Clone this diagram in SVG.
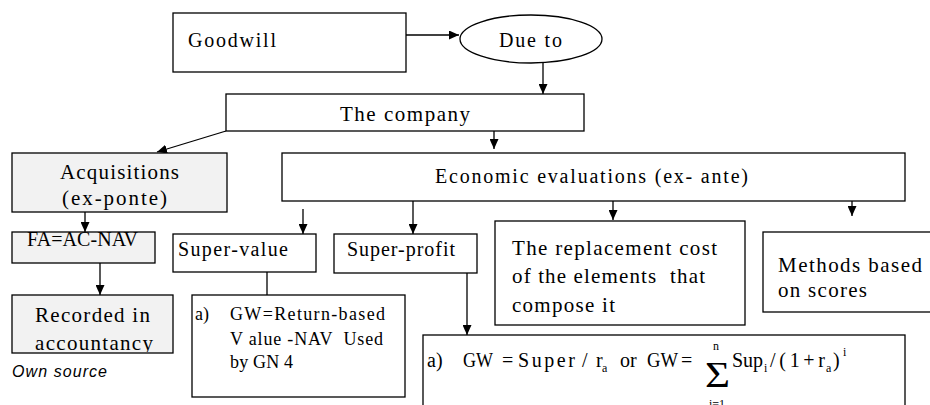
<svg xmlns="http://www.w3.org/2000/svg" width="930" height="405" viewBox="0 0 930 405">
<defs>
<marker id="ah" markerUnits="userSpaceOnUse" markerWidth="10" markerHeight="9" refX="10" refY="4.5" orient="auto">
<path d="M0,0 L10,4.5 L0,9 z" fill="#000"/>
</marker>
<clipPath id="recClip"><rect x="12" y="295" width="161" height="57"/></clipPath>
</defs>
<style>
.box{fill:#fff;stroke:#000;stroke-width:1.3}
.gray{fill:#f2f2f2;stroke:#000;stroke-width:1.3}
.t,.L,.s,.f,.sub{font-family:"Liberation Serif","Tinos","DejaVu Serif","Times New Roman",serif;fill:#000}
.t{font-size:20px}
.L{font-size:21px}
.s{font-size:18px}
.f{font-size:20px}
.sub{font-size:12px}
.src{font-family:"Liberation Sans",Arial,sans-serif;font-size:16px;font-style:italic;fill:#000}
.c{stroke:#000;stroke-width:1.3;fill:none}
</style>
<rect width="930" height="405" fill="#fff"/>

<g id="connectors">
<line class="c" x1="406" y1="35" x2="459" y2="35" marker-end="url(#ah)"/>
<line class="c" x1="543" y1="63" x2="543" y2="94" marker-end="url(#ah)"/>
<line class="c" x1="226" y1="131" x2="157" y2="152" marker-end="url(#ah)"/>
<line class="c" x1="494" y1="131" x2="494" y2="149" marker-end="url(#ah)"/>
<line class="c" x1="85" y1="212" x2="85" y2="232" marker-end="url(#ah)"/>
<line class="c" x1="100" y1="263" x2="100" y2="295" marker-end="url(#ah)"/>
<line class="c" x1="303" y1="209" x2="303" y2="234" marker-end="url(#ah)"/>
<line class="c" x1="413" y1="196" x2="413" y2="234" marker-end="url(#ah)"/>
<line class="c" x1="613" y1="201" x2="613" y2="220" marker-end="url(#ah)"/>
<line class="c" x1="852" y1="201" x2="852" y2="216" marker-end="url(#ah)"/>
<line class="c" x1="267" y1="272" x2="267" y2="295"/>
<line class="c" x1="467" y1="273" x2="467" y2="335" marker-end="url(#ah)"/>
</g>

<g id="goodwill">
<rect class="box" x="173" y="13" width="233" height="59"/>
<text class="t" x="188" y="47" textLength="88" lengthAdjust="spacing">Goodwill</text>
</g>

<g id="due-to">
<ellipse class="box" cx="531" cy="39" rx="71" ry="24"/>
<text class="t" x="499" y="47" textLength="63" lengthAdjust="spacing">Due to</text>
</g>

<g id="company">
<rect class="box" x="226" y="94" width="358" height="37"/>
<text class="L" x="340" y="121" textLength="130" lengthAdjust="spacing">The company</text>
</g>

<g id="acquisitions">
<rect class="gray" x="12" y="153" width="215" height="59"/>
<text class="L" x="60" y="179" textLength="119" lengthAdjust="spacing">Acquisitions</text>
<text class="L" x="62" y="205" textLength="105" lengthAdjust="spacing">(ex-ponte)</text>
</g>

<g id="economic">
<rect class="box" x="282" y="153" width="623" height="48"/>
<text class="t" x="435" y="183" textLength="313" lengthAdjust="spacing">Economic evaluations (ex- ante)</text>
</g>

<g id="fa">
<rect class="gray" x="12" y="232" width="143" height="31"/>
<text class="t" x="27" y="246" textLength="111" lengthAdjust="spacing">FA=AC-NAV</text>
</g>

<g id="recorded">
<rect class="gray" x="12" y="295" width="161" height="58"/>
<text class="L" x="35" y="322" textLength="115" lengthAdjust="spacing">Recorded in</text>
<text class="L" x="35" y="350" textLength="118" lengthAdjust="spacing" clip-path="url(#recClip)">accountancy</text>
</g>

<g id="own-source">
<text class="src" x="12" y="377" textLength="95" lengthAdjust="spacing">Own source</text>
</g>

<g id="super-value">
<rect class="box" x="173" y="234" width="143" height="38"/>
<text class="t" x="178" y="256" textLength="110" lengthAdjust="spacing">Super-value</text>
</g>

<g id="super-profit">
<rect class="box" x="334" y="234" width="143" height="39"/>
<text class="t" x="347" y="256" textLength="108" lengthAdjust="spacing">Super-profit</text>
</g>

<g id="gw-return">
<rect class="box" x="192" y="295" width="213" height="102"/>
<text class="s" x="195" y="320">a)</text>
<text class="s" x="230" y="320" textLength="155" lengthAdjust="spacing">GW=Return-based</text>
<text class="s" x="230" y="345" textLength="153" lengthAdjust="spacing" xml:space="preserve">V alue -NAV  Used</text>
<text class="s" x="230" y="368" textLength="63" lengthAdjust="spacing">by GN 4</text>
</g>

<g id="replacement">
<rect class="box" x="495" y="221" width="250" height="104"/>
<text class="L" x="512" y="255" textLength="205" lengthAdjust="spacing">The replacement cost</text>
<text class="L" x="512" y="283" textLength="193" lengthAdjust="spacing" xml:space="preserve">of the elements  that</text>
<text class="L" x="512" y="312" textLength="103" lengthAdjust="spacing">compose it</text>
</g>

<g id="methods">
<rect class="box" x="763" y="232" width="172" height="80"/>
<text class="L" x="778" y="272" textLength="144" lengthAdjust="spacing">Methods based</text>
<text class="L" x="778" y="297" textLength="89" lengthAdjust="spacing">on scores</text>
</g>

<g id="formula">
<rect class="box" x="423" y="335" width="482" height="80"/>
<text class="f" x="427" y="367">a)</text>
<text class="f" x="463" y="367" textLength="30" lengthAdjust="spacingAndGlyphs">GW</text>
<text class="f" x="502" y="367">=</text>
<text class="f" x="518" y="367" textLength="57" lengthAdjust="spacing">Super</text>
<text class="f" x="582" y="367">/</text>
<text class="f" x="596" y="367">r</text>
<text class="sub" x="602" y="372">a</text>
<text class="f" x="620" y="367">or</text>
<text class="f" x="647" y="367" textLength="31" lengthAdjust="spacingAndGlyphs">GW</text>
<text class="f" x="681" y="367">=</text>
<text class="f" x="705" y="387" style="font-size:36px" textLength="25" lengthAdjust="spacingAndGlyphs">Σ</text>
<text class="sub" x="713" y="350">n</text>
<text class="sub" x="709" y="408">i=1</text>
<text class="f" x="732" y="367" textLength="31" lengthAdjust="spacing">Sup</text>
<text class="sub" x="764" y="372">i</text>
<text class="f" x="770" y="367" textLength="55" lengthAdjust="spacing">/(1+r</text>
<text class="sub" x="826" y="372">a</text>
<text class="f" x="833" y="367">)</text>
<text class="sub" x="843" y="356">i</text>
</g>
</svg>
